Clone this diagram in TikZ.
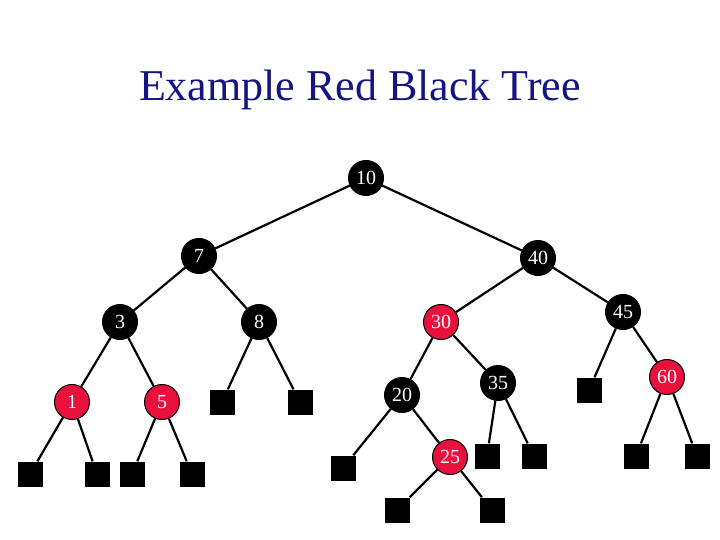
\documentclass[tikz,border=0pt]{standalone}
\usepackage{fontspec}
\setmainfont{Liberation Serif}
\definecolor{rbred}{RGB}{232,16,60}
\definecolor{titleblue}{RGB}{20,20,130}
\begin{document}
\begin{tikzpicture}[x=1pt,y=-1pt,
  bnode/.style={circle,fill=black,draw=black,line width=1pt,minimum size=35pt,inner sep=0pt,text=white,font=\fontsize{20}{20}\selectfont},
  rnode/.style={bnode,fill=rbred},
  leaf/.style={rectangle,fill=black,minimum size=25pt,inner sep=0pt},
  edge/.style={line width=2.2pt}]
\useasboundingbox (0,0) rectangle (720,540);
\node[text=titleblue,font=\fontsize{44}{44}\selectfont] (title) at (360,90) {Example Red Black Tree};
% internal nodes
\node[bnode] (n10) at (366,178) {10};
\node[bnode] (n7) at (199,256) {7};
\node[bnode] (n40) at (538,258) {40};
\node[bnode] (n3) at (120,322) {3};
\node[bnode] (n8) at (259,322) {8};
\node[rnode] (n30) at (441,322) {30};
\node[bnode] (n45) at (623,312) {45};
\node[rnode] (n1) at (72,402) {1};
\node[rnode] (n5) at (162,402) {5};
\node[bnode] (n20) at (402,395) {20};
\node[bnode] (n35) at (498,383) {35};
\node[rnode] (n60) at (667,377) {60};
\node[rnode] (n25) at (450,457) {25};
% leaves
\node[leaf] (l1a) at (30,474) {};
\node[leaf] (l1b) at (97,474) {};
\node[leaf] (l5a) at (132,474) {};
\node[leaf] (l5b) at (192,474) {};
\node[leaf] (l8a) at (222,402) {};
\node[leaf] (l8b) at (300,402) {};
\node[leaf] (l20a) at (343,468) {};
\node[leaf] (l25a) at (397,510) {};
\node[leaf] (l25b) at (492,510) {};
\node[leaf] (l35a) at (487,456) {};
\node[leaf] (l35b) at (534,456) {};
\node[leaf] (l45a) at (589,390) {};
\node[leaf] (l60a) at (636,456) {};
\node[leaf] (l60b) at (697,456) {};
% edges
\draw[edge] (n10) -- (n7);
\draw[edge] (n10) -- (n40);
\draw[edge] (n7) -- (n3);
\draw[edge] (n7) -- (n8);
\draw[edge] (n40) -- (n30);
\draw[edge] (n40) -- (n45);
\draw[edge] (n3) -- (n1);
\draw[edge] (n3) -- (n5);
\draw[edge] (n8) -- (l8a);
\draw[edge] (n8) -- (l8b);
\draw[edge] (n30) -- (n20);
\draw[edge] (n30) -- (n35);
\draw[edge] (n45) -- (l45a);
\draw[edge] (n45) -- (n60);
\draw[edge] (n1) -- (l1a);
\draw[edge] (n1) -- (l1b);
\draw[edge] (n5) -- (l5a);
\draw[edge] (n5) -- (l5b);
\draw[edge] (n20) -- (l20a);
\draw[edge] (n20) -- (n25);
\draw[edge] (n25) -- (l25a);
\draw[edge] (n25) -- (l25b);
\draw[edge] (n35) -- (l35a);
\draw[edge] (n35) -- (l35b);
\draw[edge] (n60) -- (l60a);
\draw[edge] (n60) -- (l60b);
\end{tikzpicture}
\end{document}
